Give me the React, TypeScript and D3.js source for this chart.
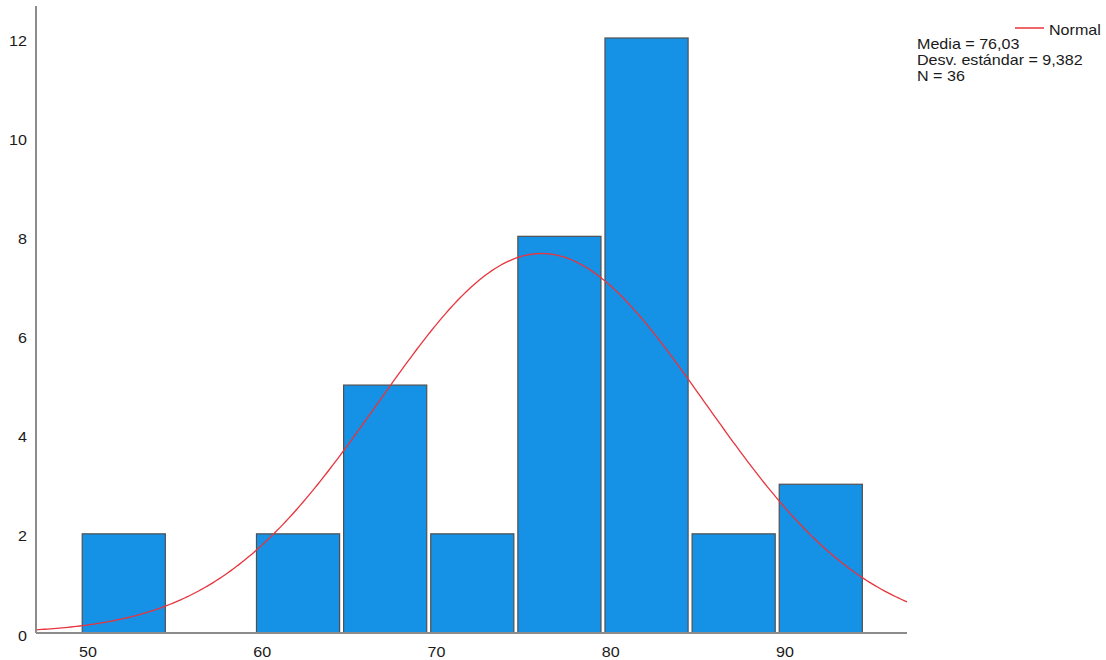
import React from "react";
import * as d3 from "d3";

const binStarts = [49.64, 54.64, 59.64, 64.64, 69.64, 74.64, 79.64, 84.64, 89.64];
const counts = [2, 0, 2, 5, 2, 8, 12, 2, 3];
const binWidth = 5;
const xTicks = [50, 60, 70, 80, 90];
const yTicks = [0, 2, 4, 6, 8, 10, 12];
const mean = 76.03;
const sd = 9.382;
const n = 36;
const legendLines = ["Media = 76,03", "Desv. estándar = 9,382", "N = 36"];

const SX = 1.15;

function T(props: { x: number; y: number; anchor?: string; size?: number; children: React.ReactNode }) {
  const { x, y, anchor = "start", size = 14, children } = props;
  return (
    <text
      transform={`translate(${x},${y}) scale(${SX},1)`}
      textAnchor={anchor}
      fontSize={size}
      fill="#1a1a1a"
    >
      {children}
    </text>
  );
}

export default function App() {
  const x = d3.scaleLinear().domain([50, 90]).range([88, 785]);
  const y = d3.scaleLinear().domain([0, 12]).range([633, 38]);
  const x0 = x.invert(36);
  const x1 = x.invert(907);
  const pdf = (v: number) =>
    (n * binWidth) / (sd * Math.sqrt(2 * Math.PI)) * Math.exp(-0.5 * ((v - mean) / sd) ** 2);
  const pts = d3.range(0, 301).map((i) => x0 + ((x1 - x0) * i) / 300);
  const line = d3
    .line<number>()
    .x((d) => x(d))
    .y((d) => y(pdf(d)));
  const font = "Arial, 'Liberation Sans', sans-serif";
  return (
    <svg
      width={1106}
      height={660}
      style={{ position: "absolute", left: 0, top: 0, background: "#fff" }}
      fontFamily={font}
    >
      {binStarts.map((b, i) =>
        counts[i] > 0 ? (
          <rect
            key={i}
            x={x(b) + 0.5}
            y={y(counts[i])}
            width={x(b + binWidth) - x(b) - 4}
            height={y(0) - y(counts[i])}
            fill="#1591E5"
            stroke="#505050"
            strokeWidth={1.2}
          />
        ) : null
      )}
      <path d={line(pts) || ""} fill="none" stroke="#E8343D" strokeWidth={1.3} />
      <line x1={36} x2={36} y1={6} y2={633} stroke="#8c8c8c" strokeWidth={2} />
      <line x1={36} x2={907} y1={633} y2={633} stroke="#8c8c8c" strokeWidth={2} />
      {yTicks.map((t) => (
        <T key={t} x={27} y={y(t) + 7.5} anchor="end">
          {t}
        </T>
      ))}
      {xTicks.map((t) => (
        <T key={t} x={x(t)} y={657} anchor="middle">
          {t}
        </T>
      ))}
      <line x1={1015} x2={1044} y1={28} y2={28} stroke="#E8343D" strokeWidth={1.5} />
      <T x={1049} y={35}>
        Normal
      </T>
      {legendLines.map((l, i) => (
        <T key={l} x={917} y={49 + i * 16}>
          {l}
        </T>
      ))}
    </svg>
  );
}
